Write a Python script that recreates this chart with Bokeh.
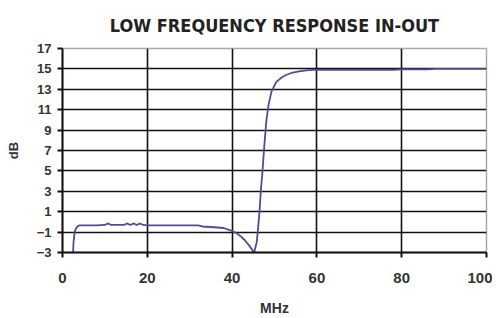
from bokeh.plotting import figure
from bokeh.models import FixedTicker, Title
from bokeh.embed import file_html
from bokeh.resources import INLINE

# Data
title_text = "LOW FREQUENCY RESPONSE IN-OUT"
freq_mhz = [2.5, 2.6, 2.9, 3.4, 3.9, 6, 8, 10, 10.7, 11.5, 13, 14.5, 15.2, 16, 16.8, 17.5,
            18.3, 19, 20, 25, 30, 32, 33, 35, 38, 39.8, 41, 42, 43, 44, 45.2,
            45.8, 46.1, 46.5, 46.8, 47.1, 47.6, 48.1, 48.6, 49.3, 50.4, 51.5, 52.7,
            54, 55.8, 57.5, 59, 65, 72, 78, 80, 83, 86, 88, 100]
gain_db = [-3.0, -2.0, -0.9, -0.5, -0.35, -0.35, -0.35, -0.3, -0.15, -0.3, -0.3, -0.3, -0.15, -0.3, -0.15, -0.3,
           -0.15, -0.3, -0.35, -0.35, -0.35, -0.35, -0.45, -0.5, -0.6, -0.85, -1.1, -1.4, -1.8, -2.3, -3.0,
           -2.0, -0.75, 1.2, 3.2, 4.6, 7.5, 10.0, 11.5, 12.8, 13.7, 14.1, 14.4,
           14.6, 14.75, 14.85, 14.9, 14.9, 14.9, 14.9, 14.95, 14.95, 14.95, 15.0, 15.0]

x_ticks = [0, 20, 40, 60, 80, 100]
y_ticks = [-3, -1, 1, 3, 5, 7, 9, 11, 13, 15, 17]

p = figure(frame_width=424, frame_height=204, output_backend="svg", toolbar_location=None,
           x_range=(0, 100), y_range=(-3, 17),
           min_border_left=62, min_border_right=6, min_border_top=48, min_border_bottom=56)

p.title = Title(text=title_text, align="center",
                text_font="DejaVu Sans Condensed", text_font_size="18px",
                text_font_style="bold", text_color="#222222")
# small blank gap between the title and the plot frame
p.add_layout(Title(text=" ", text_font_size="6px", standoff=0), "above")

p.line(freq_mhz, gain_db, line_color="#4d4d96", line_width=1.8)

p.xaxis.ticker = FixedTicker(ticks=x_ticks)
p.yaxis.ticker = FixedTicker(ticks=y_ticks)
p.xgrid.ticker = FixedTicker(ticks=x_ticks[1:-1])
p.ygrid.ticker = FixedTicker(ticks=y_ticks[1:-1])
p.xgrid.grid_line_color = "#111111"
p.ygrid.grid_line_color = "#111111"
p.xgrid.grid_line_width = 1.6
p.ygrid.grid_line_width = 1.6

for ax in (p.xaxis, p.yaxis):
    ax.axis_line_color = "#111111"
    ax.axis_line_width = 2
    ax.major_tick_line_color = "#111111"
    ax.major_tick_line_width = 2
    ax.major_tick_out = 5
    ax.major_tick_in = 0
    ax.minor_tick_line_color = None
    ax.major_label_text_font = "Liberation Sans"
    ax.major_label_text_font_style = "bold"
    ax.major_label_text_color = "#333333"
    ax.axis_label_text_font = "Liberation Sans"
    ax.axis_label_text_font_style = "bold"
    ax.axis_label_text_color = "#333333"

p.xaxis.major_label_text_font_size = "15px"
p.yaxis.major_label_text_font_size = "13px"
p.xaxis.axis_label = "MHz"
p.yaxis.axis_label = "dB"
p.xaxis.axis_label_text_font_size = "14px"
p.yaxis.axis_label_text_font_size = "13px"
p.xaxis.major_label_standoff = 15
p.yaxis.major_label_standoff = 6
p.xaxis.axis_label_standoff = 14
p.yaxis.axis_label_standoff = 13

p.outline_line_color = "#aaaaaa"
p.outline_line_width = 1.5
p.background_fill_color = "white"
p.border_fill_color = "white"

open("out.html", "w").write(file_html(p, INLINE))
